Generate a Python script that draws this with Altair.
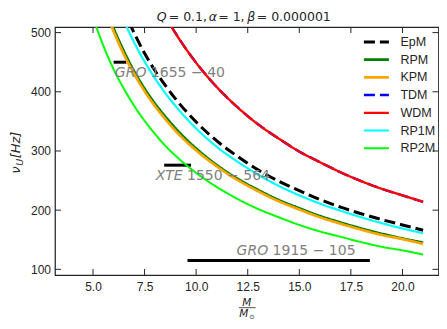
import altair as alt
import pandas as pd

# ---------------- data ----------------
masses = [4.5, 5, 5.5, 6, 6.5, 7, 7.5, 8, 8.5, 9, 10, 11, 12, 13, 14, 15, 16, 17, 18, 19, 20, 21]

nu_EpM = [776, 698, 635, 582, 537, 499, 465, 436, 411, 388, 349, 317, 291, 268, 249, 233, 218, 205, 194, 184, 175, 166]
nu_RPM = [676, 608, 553, 507, 468, 434, 405, 380, 358, 338, 304, 276, 253, 234, 217, 203, 190, 179, 169, 160, 152, 145]
nu_KPM = [669, 602, 547, 502, 463, 430, 401, 376, 354, 334, 301, 274, 251, 232, 215, 201, 188, 177, 167, 158, 151, 143]
nu_TDM = [998, 898, 816, 748, 691, 641, 599, 561, 528, 499, 449, 408, 374, 345, 321, 299, 281, 264, 249, 236, 225, 214]
nu_WDM = [998, 898, 816, 748, 691, 641, 599, 561, 528, 499, 449, 408, 374, 345, 321, 299, 281, 264, 249, 236, 225, 214]
nu_RP1M = [751, 676, 615, 563, 520, 483, 451, 423, 398, 376, 338, 307, 282, 260, 241, 225, 211, 199, 188, 178, 169, 161]
nu_RP2M = [584, 526, 478, 438, 405, 376, 351, 329, 309, 292, 263, 239, 219, 202, 188, 175, 164, 155, 146, 138, 132, 125]

series_names = ["EpM", "RPM", "KPM", "TDM", "WDM", "RP1M", "RP2M"]
series_values = [nu_EpM, nu_RPM, nu_KPM, nu_TDM, nu_WDM, nu_RP1M, nu_RP2M]
series_colors = ["#000000", "#008000", "#FFA500", "#0000FF", "#FF0000", "#00FFFF", "#00FF00"]
series_dash = [[11, 5], [1, 0], [1, 0], [11, 5], [1, 0], [1, 0], [1, 0]]
series_width = [3, 2, 2, 3, 2, 2, 2]

obs_m_lo = [6.0, 8.45, 9.58]
obs_m_hi = [6.62, 9.75, 18.42]
obs_nu = [450, 276, 115]

label_head = ["GRO", "XTE", "GRO"]
label_tail = ["1655 \u2212 40", "1550 \u2212 564", "1915 \u2212 105"]
label_m = [6.06, 8.04, 11.96]
label_nu = [424.6, 250.7, 124.1]

x_ticks = [5.0, 7.5, 10.0, 12.5, 15.0, 17.5, 20.0]
y_ticks = [100, 200, 300, 400, 500]

# ---------------- tables ----------------
rows = []
for name, vals in zip(series_names, series_values):
    for m, v in zip(masses, vals):
        rows.append({"series": name, "M": m, "nu": v})
df = pd.DataFrame(rows)
df_obs = pd.DataFrame({"M": obs_m_lo, "M2": obs_m_hi, "nu": obs_nu})
df_xt = pd.DataFrame({"M": x_ticks})
df_yt = pd.DataFrame({"nu": y_ticks})

W, H = 383.5, 248
INK = "#262626"
NB = "\u00a0"

xs = alt.Scale(domain=[3.158, 21.747], nice=False, zero=False)
ys = alt.Scale(domain=[90.4, 509.5], nice=False, zero=False)
X = alt.X("M:Q", scale=xs, axis=alt.Axis(values=x_ticks, format=".1f", title=None, grid=False,
                                          domain=False, ticks=False, tickSize=0, labelPadding=6,
                                          labelFont="Liberation Sans", labelFontSize=12,
                                          labelColor=INK))
Y = alt.Y("nu:Q", scale=ys, axis=alt.Axis(values=y_ticks, format="d", title=None, grid=False,
                                           domain=False, ticks=False, tickSize=0, labelPadding=4.5,
                                           labelFont="Liberation Sans", labelFontSize=12,
                                           labelColor=INK))

leg = alt.Legend(title=None, orient="none", legendX=307.4, legendY=8.0, symbolType="stroke",
                 symbolSize=625, clipHeight=14, rowPadding=3.7, labelOffset=10,
                 labelFont="Liberation Sans", labelFontSize=12.5, labelColor=INK,
                 padding=0, symbolOffset=0)

layers = []

# inward ticks on all four sides
layers.append(alt.Chart(df_xt).mark_rule(color=INK, strokeWidth=1).encode(
    x=X, y=alt.value(H), y2=alt.value(H - 6)))
layers.append(alt.Chart(df_xt).mark_rule(color=INK, strokeWidth=1).encode(
    x=X, y=alt.value(0), y2=alt.value(6)))
layers.append(alt.Chart(df_yt).mark_rule(color=INK, strokeWidth=1).encode(
    y=Y, x=alt.value(0), x2=alt.value(6)))
layers.append(alt.Chart(df_yt).mark_rule(color=INK, strokeWidth=1).encode(
    y=Y, x=alt.value(W), x2=alt.value(W - 6)))

# observation bars
layers.append(alt.Chart(df_obs).mark_rule(color="black", strokeWidth=3, strokeCap="butt").encode(
    x=X, x2="M2:Q", y=Y))

# curves
for name in series_names:
    layers.append(
        alt.Chart(df).transform_filter(alt.datum.series == name)
        .mark_line(clip=True, interpolate="monotone")
        .encode(
            x=X, y=Y,
            color=alt.Color("series:N", scale=alt.Scale(domain=series_names, range=series_colors), legend=leg),
            strokeDash=alt.StrokeDash("series:N", scale=alt.Scale(domain=series_names, range=series_dash), legend=leg),
            strokeWidth=alt.StrokeWidth("series:N", scale=alt.Scale(domain=series_names, range=series_width), legend=leg),
        )
    )

# source labels
for head, tail, m, v in zip(label_head, label_tail, label_m, label_nu):
    d = pd.DataFrame({"M": [m], "nu": [v], "h": [head], "t": [tail]})
    dx = 36 if head == "GRO" else 31.3
    layers.append(alt.Chart(d).mark_text(align="left", baseline="alphabetic", font="DejaVu Sans",
                                         fontSize=14, fontStyle="italic", color="#808080")
                  .encode(x=X, y=Y, text="h:N"))
    layers.append(alt.Chart(d).mark_text(align="left", baseline="alphabetic", font="DejaVu Sans",
                                         fontSize=14, color="#808080", dx=dx)
                  .encode(x=X, y=Y, text="t:N"))


def txt(s, x, y, size, italic=False, angle=0, align="left"):
    kw = dict(text=s, align=align, baseline="alphabetic", font="DejaVu Sans",
              fontSize=size, color=INK, angle=angle)
    if italic:
        kw["fontStyle"] = "italic"
    return alt.Chart(alt.Data(values=[{}])).mark_text(**kw).encode(
        x=alt.value(x), y=alt.value(y))


# title pieces (absolute page x minus plot left 55.3)
OX = 55.3
ty = -6
TF = 12.5
layers += [
    txt("Q", 157 - OX, ty, TF, italic=True),
    txt(NB + "=" + NB + "0.1,", 169 - OX, ty, TF),
    txt("\u03b1", 209 - OX, ty, TF, italic=True),
    txt(NB + "=" + NB + "1,", 218.5 - OX, ty, TF),
    txt("\u03b2", 247.5 - OX, ty, TF, italic=True),
    txt(NB + "=" + NB + "0.000001", 257 - OX, ty, TF),
]

# y axis title
layers += [
    txt("\u03bd", -35, 146.8, 13, italic=True, angle=270),
    txt("U", -32.3, 138.8, 9.5, italic=True, angle=270),
    txt("[Hz]", -35, 131.3, 13, italic=True, angle=270),
]

# x axis title (fraction M / M_sun)
layers += [
    txt("M", 191.7, 279.3, 10.5, italic=True, align="center"),
    alt.Chart(alt.Data(values=[{}])).mark_rule(color=INK, strokeWidth=0.8).encode(
        x=alt.value(184), x2=alt.value(200.7), y=alt.value(280.7)),
    txt("M", 184.2, 290.3, 10.5, italic=True),
    txt("\u2299", 194.2, 291.8, 6.5),
]

chart = alt.layer(*layers).properties(
    width=W, height=H,
    autosize=alt.AutoSizeParams(type="none"),
    padding={"left": 47, "top": 19, "right": 0, "bottom": 45},
).configure_view(stroke=INK, strokeWidth=1.25)

chart.save("out.html", embed_options={"renderer": "svg", "actions": False})
